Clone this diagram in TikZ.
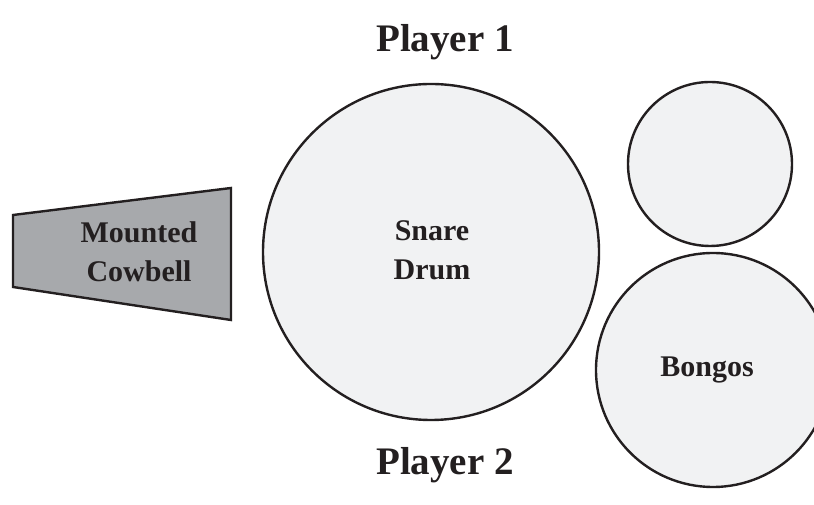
\documentclass[tikz,border=0pt]{standalone}
\usepackage{fontspec}
\setmainfont{Liberation Serif}
\usepackage{tikz}

\definecolor{drumfill}{HTML}{F1F2F3}
\definecolor{bellfill}{HTML}{A7A9AC}
\definecolor{inkline}{HTML}{231F20}

\begin{document}
\begin{tikzpicture}[x=1pt,y=1pt,
    rim/.style={draw=inkline,line width=2.4pt},
    title/.style={font=\bfseries\fontsize{39}{44}\selectfont,text=inkline},
    label/.style={font=\bfseries\fontsize{30}{39}\selectfont,text=inkline,align=center}]
  \useasboundingbox (0,0) rectangle (814,505);
  \filldraw[rim,fill=bellfill] (13,290) -- (231,317) -- (231,185) -- (13,218) -- cycle;  % cowbell
  \filldraw[rim,fill=drumfill] (431,253) circle (168);  % snare drum
  \filldraw[rim,fill=drumfill] (710,341) circle (82);   % small top drum
  \filldraw[rim,fill=drumfill] (713,135) circle (117);  % bongos
  \node[title] (player1) at (445,463) {Player 1};  % labels
  \node[title] (player2) at (445,40) {Player 2};
  \node[label] (cowbell) at (139,253) {Mounted\\Cowbell};
  \node[label] (snare) at (432,255) {Snare\\Drum};
  \node[label] (bongos) at (707,135) {Bongos};
\end{tikzpicture}
\end{document}
